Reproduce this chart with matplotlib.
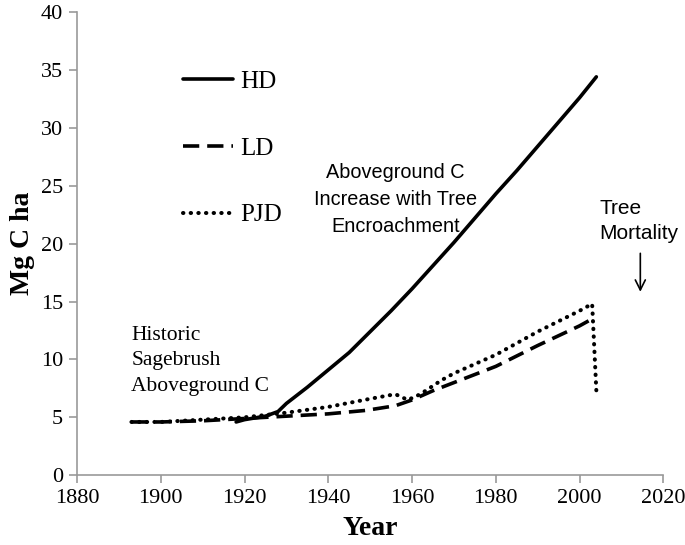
import matplotlib.pyplot as plt

# data
hd_years = [1918, 1920, 1925, 1928, 1930, 1935, 1940, 1945, 1950, 1955, 1960,
            1965, 1970, 1975, 1980, 1985, 1990, 1995, 2000, 2004]
hd_carbon = [4.6, 4.8, 5.1, 5.5, 6.2, 7.6, 9.1, 10.6, 12.4, 14.2, 16.1,
             18.1, 20.1, 22.2, 24.3, 26.3, 28.4, 30.5, 32.6, 34.4]

ld_years = [1893, 1900, 1910, 1920, 1930, 1940, 1949, 1956, 1960, 1965,
            1970, 1980, 1990, 2000, 2002.5]
ld_carbon = [4.6, 4.6, 4.7, 4.9, 5.1, 5.3, 5.6, 6.0, 6.5, 7.3,
             8.0, 9.4, 11.2, 12.9, 13.4]

pjd_years = [1893, 1900, 1910, 1920, 1930, 1940, 1950, 1956, 1959, 1962,
             1967, 1970, 1980, 1990, 2000, 2003, 2004]
pjd_carbon = [4.6, 4.6, 4.8, 5.0, 5.4, 5.9, 6.6, 7.0, 6.5, 7.0,
              8.2, 8.8, 10.4, 12.4, 14.2, 14.8, 7.3]

x_ticks = [1880, 1900, 1920, 1940, 1960, 1980, 2000, 2020]
y_ticks = [0, 5, 10, 15, 20, 25, 30, 35, 40]

serif = ['Liberation Serif', 'DejaVu Serif']
sans = ['Liberation Sans', 'DejaVu Sans']

fig = plt.figure(figsize=(6.85, 5.45), dpi=100)
ax = fig.add_axes([0.1124, 0.128, 0.856, 0.85])

ax.plot(hd_years, hd_carbon, color='black', lw=2.6, solid_capstyle='round', label='HD')
ax.plot(ld_years, ld_carbon, color='black', lw=2.6, dashes=(4.5, 2.2), label='LD')
ax.plot(pjd_years, pjd_carbon, color='black', lw=2.9, dashes=(0.1, 1.8),
        dash_capstyle='round', label='PJD')

ax.set_xlim(1880, 2020)
ax.set_ylim(0, 40)
ax.set_xticks(x_ticks)
ax.set_yticks(y_ticks)
for lab in ax.get_xticklabels() + ax.get_yticklabels():
    lab.set_family(serif)
    lab.set_fontsize(16)

for side in ['top', 'right']:
    ax.spines[side].set_visible(False)
for side in ['left', 'bottom']:
    ax.spines[side].set_color('#999999')
    ax.spines[side].set_linewidth(1.2)
ax.tick_params(axis='both', colors='#999999', length=6, width=1.2, labelcolor='black', pad=4)

ax.set_xlabel('Year', family=serif, fontsize=20, fontweight='bold', labelpad=6)
ax.set_ylabel('Mg C ha', family=serif, fontsize=20, fontweight='bold', labelpad=4)

leg = ax.legend(loc='upper left', bbox_to_anchor=(0.181, 0.874), frameon=False,
                borderpad=0, borderaxespad=0,
                handlelength=2.0, handletextpad=0.3, labelspacing=1.77,
                prop={'family': serif, 'size': 18})

ax.text(1893, 12.9, 'Historic\nSagebrush\nAboveground C', family=serif, fontsize=15.5,
        ha='left', va='top', linespacing=1.46)
ax.text(1956, 27.0, 'Aboveground C\nIncrease with Tree\nEncroachment', family=sans,
        fontsize=14.3, ha='center', va='top', linespacing=1.54)
ax.text(2004.8, 23.85, 'Tree\nMortality', family=sans, fontsize=15, ha='left', va='top',
        linespacing=1.4)
ax.annotate('', xy=(2014.5, 15.6), xytext=(2014.5, 19.4),
            arrowprops=dict(arrowstyle='->', color='black', lw=1.2, mutation_scale=18))

fig.savefig('out.png', dpi=100)
